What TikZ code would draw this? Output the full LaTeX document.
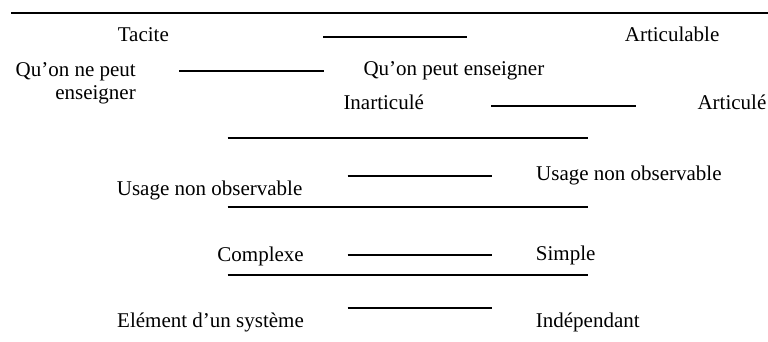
\documentclass[tikz,border=0pt]{standalone}
\usepackage{fontspec}
\setmainfont{Liberation Serif}
\begin{document}
\begin{tikzpicture}[x=1pt,y=-1pt,
  rule/.style={line width=2pt},
  lbl/.style={inner sep=0pt,font=\fontsize{21}{24}\selectfont}]
\useasboundingbox (0,0) rectangle (768,342);

% horizontal rules
\draw[rule] (11,12.7) -- (768,12.7);
\draw[rule] (323,36.7) -- (467,36.7);
\draw[rule] (179,70.7) -- (324,70.7);
\draw[rule] (491.3,105.7) -- (636.3,105.7);
\draw[rule] (227.7,138) -- (588.3,138);
\draw[rule] (347.7,176) -- (492.3,176);
\draw[rule] (227.7,206.7) -- (588.3,206.7);
\draw[rule] (347.7,255) -- (492.3,255);
\draw[rule] (227.7,275) -- (588.3,275);
\draw[rule] (347.7,307.7) -- (492.3,307.7);

% labels (the two-line label is anchored at the baseline of its last line)
\node[lbl,anchor=base east] (tac) at (169,41.5) {Tacite};
\node[lbl,anchor=base west] (artb) at (624.7,41.5) {Articulable};
\node[lbl,anchor=base east,align=right] (nens) at (136,100) {Qu’on ne peut\\enseigner};
\node[lbl,anchor=base west] (ens) at (363.3,76) {Qu’on peut enseigner};
\node[lbl,anchor=base west] (inart) at (343.3,110) {Inarticulé};
\node[lbl,anchor=base west] (art) at (697.3,110) {Articulé};
\node[lbl,anchor=base west] (usl) at (116.7,195) {Usage non observable};
\node[lbl,anchor=base west] (usr) at (536,180.7) {Usage non observable};
\node[lbl,anchor=base east] (cpx) at (304,261) {Complexe};
\node[lbl,anchor=base west] (smp) at (535.7,260.5) {Simple};
\node[lbl,anchor=base east] (elm) at (304,327.7) {Elément d’un système};
\node[lbl,anchor=base west] (ind) at (535.7,327.7) {Indépendant};
\end{tikzpicture}
\end{document}
